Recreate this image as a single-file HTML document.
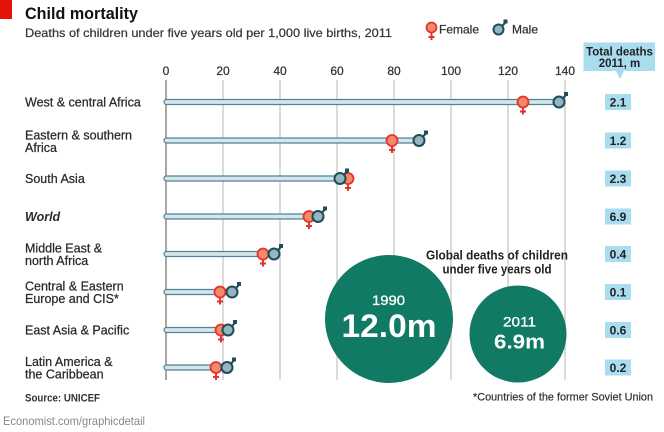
<!DOCTYPE html>
<html><head><meta charset="utf-8"><style>
html,body{margin:0;padding:0;background:#fff;}
svg{display:block;}
text{font-family:"Liberation Sans",sans-serif;}
</style></head><body>
<svg width="664" height="432" viewBox="0 0 664 432" xmlns="http://www.w3.org/2000/svg">
<rect x="0" y="0" width="12" height="19" fill="#e3120b"/>
<text x="25" y="19" font-size="17" font-weight="bold" fill="#111" textLength="113" lengthAdjust="spacingAndGlyphs">Child mortality</text>
<text x="25" y="37" font-size="12" fill="#333" stroke="#333" stroke-width="0.2" textLength="367" lengthAdjust="spacingAndGlyphs">Deaths of children under five years old per 1,000 live births, 2011</text>

<!-- legend -->
<g>
<line x1="431.5" y1="33" x2="431.5" y2="40" stroke="#e5332a" stroke-width="2"/>
<line x1="428.5" y1="37" x2="434.5" y2="37" stroke="#e5332a" stroke-width="2"/>
<circle cx="431.5" cy="27.5" r="5" fill="#ef8a6c" stroke="#e5332a" stroke-width="1.8"/>
<text x="439" y="33.3" font-size="12" fill="#333" stroke="#333" stroke-width="0.25">Female</text>
<line x1="502" y1="26" x2="505" y2="23" stroke="#1e4c59" stroke-width="2"/>
<rect x="503.5" y="19.5" width="4" height="4" fill="#1e4c59"/>
<circle cx="498.5" cy="29.5" r="5" fill="#93b6c0" stroke="#1e4c59" stroke-width="2"/>
<text x="512" y="33.3" font-size="12" fill="#333" stroke="#333" stroke-width="0.25">Male</text>
</g>

<!-- total deaths header -->
<path d="M583.5 42.5 H655 V71 H624 L620 79 L616 71 H583.5 Z" fill="#a9dcef"/>
<text x="619.5" y="55.5" font-size="11.5" font-weight="bold" fill="#222" text-anchor="middle">Total deaths</text>
<text x="619.5" y="67" font-size="11.5" font-weight="bold" fill="#222" text-anchor="middle">2011, m</text>

<!-- tick labels -->
<g font-size="12" fill="#333" stroke="#333" stroke-width="0.25" text-anchor="middle">
<text x="166" y="75">0</text>
<text x="223" y="75">20</text>
<text x="280" y="75">40</text>
<text x="337" y="75">60</text>
<text x="394" y="75">80</text>
<text x="451" y="75">100</text>
<text x="508" y="75">120</text>
<text x="565" y="75">140</text>
</g>
<!-- gridlines -->
<g stroke-width="1.5">
<line x1="223" y1="80" x2="223" y2="380" stroke="#cfcfcf"/>
<line x1="280" y1="80" x2="280" y2="380" stroke="#cfcfcf"/>
<line x1="337" y1="80" x2="337" y2="380" stroke="#cfcfcf"/>
<line x1="394" y1="80" x2="394" y2="380" stroke="#cfcfcf"/>
<line x1="451" y1="80" x2="451" y2="380" stroke="#cfcfcf"/>
<line x1="508" y1="80" x2="508" y2="380" stroke="#cfcfcf"/>
<line x1="565" y1="80" x2="565" y2="380" stroke="#cfcfcf"/>
<line x1="166" y1="80" x2="166" y2="380" stroke="#8a8a8a"/>
</g>

<!-- row labels -->
<g font-size="12.5" fill="#2a2a2a" stroke="#2a2a2a" stroke-width="0.25">
<text x="25" y="106.5">West &amp; central Africa</text>
<text x="25" y="139.5">Eastern &amp; southern</text>
<text x="25" y="152">Africa</text>
<text x="25" y="183">South Asia</text>
<text x="25" y="221" font-weight="bold" font-style="italic" stroke-width="0">World</text>
<text x="25" y="252.5">Middle East &amp;</text>
<text x="25" y="265">north Africa</text>
<text x="25" y="290.5">Central &amp; Eastern</text>
<text x="25" y="303">Europe and CIS*</text>
<text x="25" y="334.5">East Asia &amp; Pacific</text>
<text x="25" y="366">Latin America &amp;</text>
<text x="25" y="378.5">the Caribbean</text>
</g>

<defs>
<g id="fem">
<line x1="0" y1="5" x2="0" y2="12.5" stroke="#e5332a" stroke-width="2"/>
<line x1="-3" y1="9.5" x2="3" y2="9.5" stroke="#e5332a" stroke-width="2"/>
<circle cx="0" cy="0" r="5.5" fill="#ef8a6c" stroke="#e5332a" stroke-width="1.8"/>
</g>
<g id="mal">
<line x1="3.5" y1="-3.5" x2="6.5" y2="-6.5" stroke="#1e4c59" stroke-width="2"/>
<rect x="5" y="-10" width="4" height="4" fill="#1e4c59"/>
<circle cx="0" cy="0" r="5.5" fill="#93b6c0" stroke="#1e4c59" stroke-width="2"/>
</g>
</defs>

<!-- bars -->
<g fill="#d6e5ea" stroke="#4d8496" stroke-width="1.2">
<rect x="164" y="99.5" width="395" height="5" rx="2.5"/>
<rect x="164" y="138" width="255" height="5" rx="2.5"/>
<rect x="164" y="176" width="184" height="5" rx="2.5"/>
<rect x="164" y="214" width="154" height="5" rx="2.5"/>
<rect x="164" y="251.5" width="110" height="5" rx="2.5"/>
<rect x="164" y="289.5" width="68" height="5" rx="2.5"/>
<rect x="164" y="327.5" width="64" height="5" rx="2.5"/>
<rect x="164" y="365" width="63" height="5" rx="2.5"/>
</g>

<!-- markers -->
<use href="#fem" x="523" y="102"/><use href="#mal" x="559" y="102"/>
<use href="#fem" x="392" y="140.5"/><use href="#mal" x="419" y="140.5"/>
<use href="#fem" x="348" y="178.5"/><use href="#mal" x="340" y="178.5"/>
<use href="#fem" x="309" y="216.5"/><use href="#mal" x="318" y="216.5"/>
<use href="#fem" x="263" y="254"/><use href="#mal" x="274" y="254"/>
<use href="#fem" x="220" y="292"/><use href="#mal" x="232" y="292"/>
<use href="#fem" x="221" y="330"/><use href="#mal" x="228" y="330"/>
<use href="#fem" x="216" y="367.5"/><use href="#mal" x="227" y="367.5"/>

<!-- total values -->
<g fill="#a9dcef">
<rect x="605" y="94" width="26" height="16"/>
<rect x="605" y="132.5" width="26" height="16"/>
<rect x="605" y="170.5" width="26" height="16"/>
<rect x="605" y="208.5" width="26" height="16"/>
<rect x="605" y="246" width="26" height="16"/>
<rect x="605" y="284" width="26" height="16"/>
<rect x="605" y="322" width="26" height="16"/>
<rect x="605" y="359.5" width="26" height="16"/>
</g>
<g font-size="12" font-weight="bold" fill="#222" text-anchor="middle">
<text x="618" y="106.5">2.1</text>
<text x="618" y="145">1.2</text>
<text x="618" y="183">2.3</text>
<text x="618" y="221">6.9</text>
<text x="618" y="258.5">0.4</text>
<text x="618" y="296.5">0.1</text>
<text x="618" y="334.5">0.6</text>
<text x="618" y="372">0.2</text>
</g>

<!-- bubbles -->
<text x="497" y="259.3" font-size="12.5" font-weight="bold" fill="#222" text-anchor="middle" textLength="142" lengthAdjust="spacingAndGlyphs">Global deaths of children</text>
<text x="497" y="273.3" font-size="12.5" font-weight="bold" fill="#222" text-anchor="middle" textLength="109" lengthAdjust="spacingAndGlyphs">under five years old</text>
<circle cx="389" cy="319" r="64" fill="#117a65"/>
<circle cx="518" cy="334" r="48.5" fill="#117a65"/>
<text x="388.5" y="305" font-size="14" fill="#fff" stroke="#fff" stroke-width="0.3" text-anchor="middle" textLength="33" lengthAdjust="spacingAndGlyphs">1990</text>
<text x="389" y="337" font-size="32" font-weight="bold" fill="#fff" text-anchor="middle" textLength="95" lengthAdjust="spacingAndGlyphs">12.0m</text>
<text x="519.5" y="326.7" font-size="14" fill="#fff" stroke="#fff" stroke-width="0.3" text-anchor="middle" textLength="33" lengthAdjust="spacingAndGlyphs">2011</text>
<text x="519.5" y="348.3" font-size="20" font-weight="bold" fill="#fff" text-anchor="middle" textLength="51" lengthAdjust="spacingAndGlyphs">6.9m</text>

<!-- footer -->
<text x="25" y="401.5" font-size="11" font-weight="bold" fill="#333" textLength="75" lengthAdjust="spacingAndGlyphs">Source: UNICEF</text>
<text x="473" y="400.7" font-size="11" fill="#333" stroke="#333" stroke-width="0.2" textLength="180" lengthAdjust="spacingAndGlyphs">*Countries of the former Soviet Union</text>
<text x="3" y="425" font-size="12" fill="#888" textLength="142" lengthAdjust="spacingAndGlyphs">Economist.com/graphicdetail</text>
</svg>
</body></html>
